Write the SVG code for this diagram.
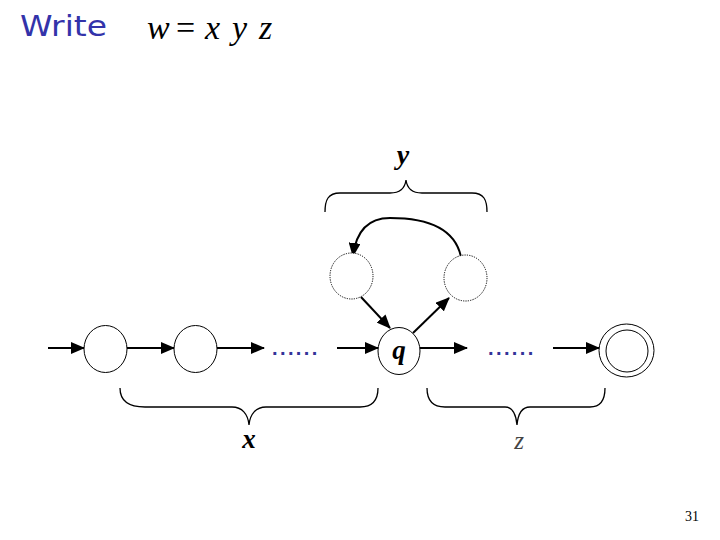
<svg xmlns="http://www.w3.org/2000/svg" width="720" height="540" viewBox="0 0 720 540">
<defs>
<marker id="ah" markerUnits="userSpaceOnUse" markerWidth="14" markerHeight="12" refX="13" refY="6" orient="auto">
<path d="M0,0 L14,6 L0,12 Z" fill="#000"/>
</marker>
<style>
.st{fill:#fff;stroke:#000;stroke-width:1}
.dot{fill:#fff;stroke:#000;stroke-width:1;stroke-dasharray:1.2 1.2}
.ar{fill:none;stroke:#000;stroke-width:2;marker-end:url(#ah)}
.br{fill:none;stroke:#000;stroke-width:1.3}
.math{font-family:"Liberation Serif",serif;font-style:italic}
.dots{font-family:"Liberation Sans",sans-serif;font-size:20px;font-weight:bold;fill:#333399;letter-spacing:2.4px}
</style>
</defs>
<rect width="720" height="540" fill="#fff"/>
<text x="20" y="36" font-family="'Comic Sans MS','DejaVu Sans',sans-serif" font-size="28" fill="#3333aa" textLength="87" lengthAdjust="spacingAndGlyphs">Write</text>
<text x="147" y="39" class="math" font-size="34">w<tspan x="176" font-style="normal">=</tspan><tspan x="205">x</tspan><tspan x="232">y</tspan><tspan x="259">z</tspan></text>

<g id="connectors">
<line x1="48" y1="348" x2="84" y2="348" class="ar"/>
<line x1="127" y1="348" x2="174" y2="348" class="ar"/>
<line x1="217" y1="348" x2="264" y2="348" class="ar"/>
<line x1="337" y1="348" x2="378" y2="348" class="ar"/>
<line x1="420" y1="348" x2="467" y2="348" class="ar"/>
<line x1="553" y1="348" x2="599" y2="348" class="ar"/>
<line x1="361" y1="297" x2="390" y2="328" class="ar"/>
<line x1="413" y1="333" x2="449" y2="298" class="ar"/>
<path d="M461,257 C455,228 428,218 390,218 C368,218 356,232 353,256" class="ar"/>
</g>

<g id="s1"><ellipse cx="105.5" cy="349" rx="21.5" ry="23.5" class="st"/></g>
<g id="s2"><ellipse cx="195.5" cy="349" rx="21.5" ry="23.5" class="st"/></g>
<g id="q"><ellipse cx="399" cy="351" rx="21" ry="23.5" class="st"/>
<text x="399" y="359" class="math" font-weight="bold" font-size="27" text-anchor="middle">q</text></g>
<g id="y1"><ellipse cx="351.5" cy="276" rx="21.5" ry="23" class="dot"/></g>
<g id="y2"><ellipse cx="465.5" cy="278" rx="21.5" ry="23" class="dot"/></g>
<g id="f"><ellipse cx="626.5" cy="350.5" rx="27.5" ry="26.5" class="st"/><ellipse cx="627" cy="351" rx="21" ry="21" class="st"/></g>

<text x="272" y="355" class="dots">......</text>
<text x="488" y="355" class="dots">......</text>

<g id="brace-y">
<path d="M325,212 C325,200 328,193 340,193 L390,193 C400,193 405,188 406,180 C407,188 412,193 422,193 L472,193 C484,193 487,200 487,212" class="br"/>
<text x="403" y="164" class="math" font-weight="bold" font-size="28" text-anchor="middle">y</text>
</g>
<g id="brace-x">
<path d="M120,388 C120,400 128,407 145,407 L232,407 C242,407 248,414 249,425 C250,414 256,407 266,407 L360,407 C372,407 378,400 378,388" class="br"/>
<text x="249" y="448" class="math" font-weight="bold" font-size="27" text-anchor="middle">x</text>
</g>
<g id="brace-z">
<path d="M427,388 C427,400 433,407 445,407 L505,407 C512,407 516,414 517,425 C518,414 522,407 530,407 L590,407 C600,407 605,400 605,388" class="br"/>
<text x="519" y="449" class="math" font-size="25" fill="#444" text-anchor="middle">z</text>
</g>
<text x="692" y="521" font-family="'Liberation Serif',serif" font-size="14" text-anchor="middle">31</text>
</svg>
